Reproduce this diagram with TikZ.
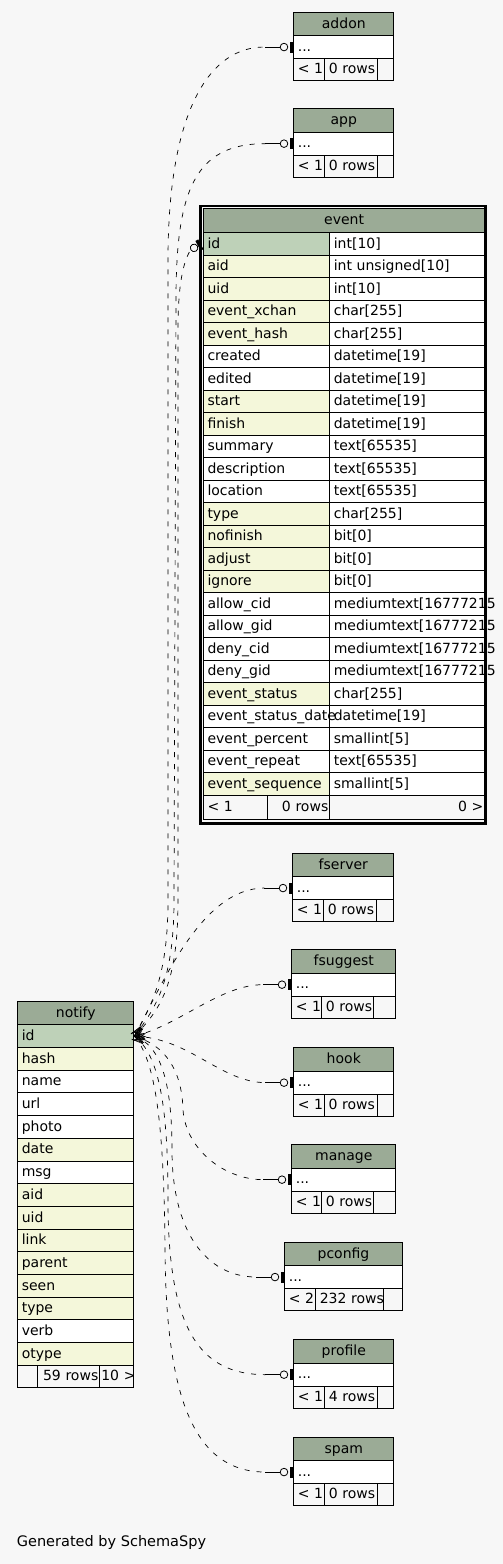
\documentclass[tikz,border=0pt]{standalone}
\usepackage{fontspec}
\setmainfont{DejaVu Sans}
\definecolor{bg}{HTML}{F7F7F7}
\definecolor{hdr}{HTML}{9BAB96}
\definecolor{key}{HTML}{BED1B8}
\definecolor{idx}{HTML}{F4F7DA}
\tikzset{
 cell/.style={draw=black, line width=1pt, anchor=north west, inner xsep=4pt, inner ysep=0pt, text height=11pt, text depth=2.5pt, align=left},
 rcell/.style={cell, inner xsep=1.5pt, align=right},
 hcell/.style={draw=black, fill=hdr, line width=1pt, anchor=north west, inner sep=0pt, text height=11pt, text depth=2.5pt},
 rel/.style={line width=0.7pt, dash pattern=on 5pt off 7pt},
 markline/.style={line width=0.8pt},
}
\newcommand\smalltab[9]{%
 \pgfmathsetmacro\smw{#4-8}%
 \pgfmathsetmacro\smwa{#5-8}%
 \pgfmathsetmacro\smwb{#6-8}%
 \pgfmathsetmacro\smwc{#4-#5-#6-8}%
 \node[hcell, minimum width=#4pt, minimum height=23.5pt] (#1-h) at (#2,#3) {#7};
 \node[cell, fill=white, text width=\smw pt, minimum height=22.7pt] (#1-r) at (#2,#3+23.5) {\mbox{...}};
 \node[cell, fill=bg, text width=\smwa pt, minimum height=22.5pt] (#1-fa) at (#2,#3+46.2) {\mbox{#8}};
 \node[cell, fill=bg, text width=\smwb pt, minimum height=22.5pt] (#1-fb) at (#2+#5,#3+46.2) {\mbox{#9}};
 \node[cell, fill=bg, text width=\smwc pt, minimum height=22.5pt] (#1-fc) at (#2+#5+#6,#3+46.2) {};
}
\newcommand\pend[1]{%
 \fill ([xshift=-3.3pt,yshift=-5.5pt]#1.west) rectangle ([yshift=5.5pt]#1.west);
 \draw[markline] ([xshift=-13.1pt]#1.west) -- ([xshift=-28pt]#1.west);
 \draw[markline, fill=bg] ([xshift=-9.3pt]#1.west) circle (3.8pt);
}
\newcommand\crowft[1]{%
 \draw[line width=0.6pt] (notify-r0.east) -- ([shift={(#1:11pt)}]notify-r0.east);
 \draw[line width=0.6pt] ([shift={(#1+90:4pt)}]notify-r0.east) -- ([shift={(#1:11pt)}]notify-r0.east) -- ([shift={(#1-90:4pt)}]notify-r0.east);
}
\begin{document}
\begin{tikzpicture}[x=1pt, y=-1pt, font=\fontsize{14}{16}\selectfont]
\fill[bg] (0,0) rectangle (503,1564);
\useasboundingbox (0,0) rectangle (503,1564);

% small tables
\smalltab{addon}{293.3}{11.7}{100}{31}{52.4}{addon}{< 1}{0 rows}
\smalltab{app}{293.3}{108.3}{100}{31}{52.4}{app}{< 1}{0 rows}
\smalltab{fserver}{292.3}{852.7}{101}{31}{52.4}{fserver}{< 1}{0 rows}
\smalltab{fsuggest}{291.3}{949.3}{104}{30}{52}{fsuggest}{< 1}{0 rows}
\smalltab{hook}{293.3}{1047.3}{100}{30.7}{52.7}{hook}{< 1}{0 rows}
\smalltab{manage}{291.3}{1144.3}{104}{30}{52}{manage}{< 1}{0 rows}
\smalltab{pconfig}{284.3}{1241.7}{117.4}{31}{68}{pconfig}{< 2}{232 rows}
\smalltab{profile}{293.3}{1339.3}{100}{31}{52.4}{profile}{< 1}{4 rows}
\smalltab{spam}{293.3}{1436.7}{100}{31}{52.4}{spam}{< 1}{0 rows}

% event table
\draw[line width=2.4pt] (200.5,206.2) rectangle (485.5,823.4);
\node[hcell, minimum width=281.3pt, minimum height=24.3pt] (event-h) at (203,208) {event};
\foreach \nm/\ty/\cl [count=\i from 0] in {
 id/int[10]/key, aid/int unsigned[10]/idx, uid/int[10]/idx,
 event\_xchan/char[255]/idx, event\_hash/char[255]/idx,
 created/datetime[19]/white, edited/datetime[19]/white,
 start/datetime[19]/idx, finish/datetime[19]/idx,
 summary/text[65535]/white, description/text[65535]/white, location/text[65535]/white,
 type/char[255]/idx, nofinish/bit[0]/idx, adjust/bit[0]/idx, ignore/bit[0]/idx,
 allow\_cid/mediumtext[16777215/white, allow\_gid/mediumtext[16777215/white,
 deny\_cid/mediumtext[16777215/white, deny\_gid/mediumtext[16777215/white,
 event\_status/char[255]/idx, event\_status\_date/datetime[19]/white,
 event\_percent/smallint[5]/white, event\_repeat/text[65535]/white,
 event\_sequence/smallint[5]/idx} {
 \node[cell, fill=white, text width=147pt, minimum height=22.5pt] (event-t\i) at (329.3,232.3+22.5*\i) {\mbox{\ty}};
 \node[cell, fill=\cl, text width=118.3pt, minimum height=22.5pt] (event-r\i) at (203,232.3+22.5*\i) {\mbox{\nm}};
}
\node[cell, fill=bg, text width=56.3pt, minimum height=24.5pt] (event-fa) at (203,794.8) {\mbox{< 1}};
\node[rcell, fill=bg, text width=59pt, minimum height=24.5pt] (event-fb) at (267.3,794.8) {\mbox{0 rows}};
\node[rcell, fill=bg, text width=152pt, minimum height=24.5pt] (event-fc) at (329.3,794.8) {\mbox{0 >}};

% notify table
\node[hcell, minimum width=116pt, minimum height=23.6pt] (notify-h) at (17.3,1000.7) {notify};
\foreach \nm/\cl [count=\i from 0] in {id/key, hash/idx, name/white, url/white, photo/white, date/idx, msg/white, aid/idx, uid/idx, link/idx, parent/idx, seen/idx, type/idx, verb/white, otype/idx} {
 \node[cell, fill=\cl, text width=108pt, minimum height=22.7pt] (notify-r\i) at (17.3,1024.3+22.7*\i) {\mbox{\nm}};
}
\node[cell, fill=bg, text width=11.4pt, minimum height=22.5pt] (notify-fa) at (17.3,1364.8) {};
\node[rcell, fill=bg, text width=59.6pt, minimum height=22.5pt] (notify-fb) at (36.7,1364.8) {\mbox{59 rows}};
\node[rcell, fill=bg, text width=31pt, minimum height=22.5pt] (notify-fc) at (99.3,1364.8) {\mbox{10 >}};

\node[anchor=base west, inner sep=0pt, font=\fontsize{14.5}{17}\selectfont] (gen) at (16.7,1546.7) {Generated by SchemaSpy};

% event marker
\begin{scope}[shift={([xshift=-3.6pt,yshift=-1pt]event-r0.west)}, rotate=28]
 \fill (-1.6,-5.5) rectangle (1.6,5.5);
 \draw[markline, fill=bg] (-6,0) circle (3.8pt);
 \coordinate (evstub) at (-9.8,0);
\end{scope}

% connectors
\draw[rel] (notify-r0.east) .. controls (152,1005) and (168,975) .. (168,900) -- (168,260) .. controls (168,110) and (210,46.2) .. ([xshift=-28pt]addon-r.west);
\draw[rel] (notify-r0.east) .. controls (156,1008) and (174,980) .. (174,900) -- (176,300) .. controls (176,190) and (195,143.7) .. ([xshift=-28pt]app-r.west);
\draw[rel] (notify-r0.east) .. controls (160,1010) and (178,985) .. (178,900) -- (178,330) .. controls (178,285) and (183,262) .. (evstub);
\draw[rel] (notify-r0.east) .. controls (160,990) and (200,888) .. ([xshift=-28pt]fserver-r.west);
\draw[rel] (notify-r0.east) .. controls (180,1025) and (220,984.7) .. ([xshift=-28pt]fsuggest-r.west);
\draw[rel] (notify-r0.east) .. controls (190,1038) and (220,1082) .. ([xshift=-28pt]hook-r.west);
\draw[rel] (notify-r0.east) .. controls (165,1045) and (182,1070) .. (183,1110) .. controls (186,1150) and (225,1179.7) .. ([xshift=-28pt]manage-r.west);
\draw[rel] (notify-r0.east) .. controls (160,1045) and (172,1080) .. (172,1150) .. controls (172,1230) and (205,1276.7) .. ([xshift=-28pt]pconfig-r.west);
\draw[rel] (notify-r0.east) .. controls (160,1055) and (168,1110) .. (168,1200) .. controls (168,1330) and (200,1374.5) .. ([xshift=-28pt]profile-r.west);
\draw[rel] (notify-r0.east) .. controls (155,1060) and (164,1120) .. (165,1250) .. controls (166,1400) and (195,1471.7) .. ([xshift=-28pt]spam-r.west);

\pend{addon-r}
\pend{app-r}
\pend{fserver-r}
\pend{fsuggest-r}
\pend{hook-r}
\pend{manage-r}
\pend{pconfig-r}
\pend{profile-r}
\pend{spam-r}

\crowft{55}
\crowft{48}
\crowft{41}
\crowft{58}
\crowft{13}
\crowft{-3}
\crowft{-15}
\crowft{-20}
\crowft{-35}
\crowft{-42}
\end{tikzpicture}
\end{document}
